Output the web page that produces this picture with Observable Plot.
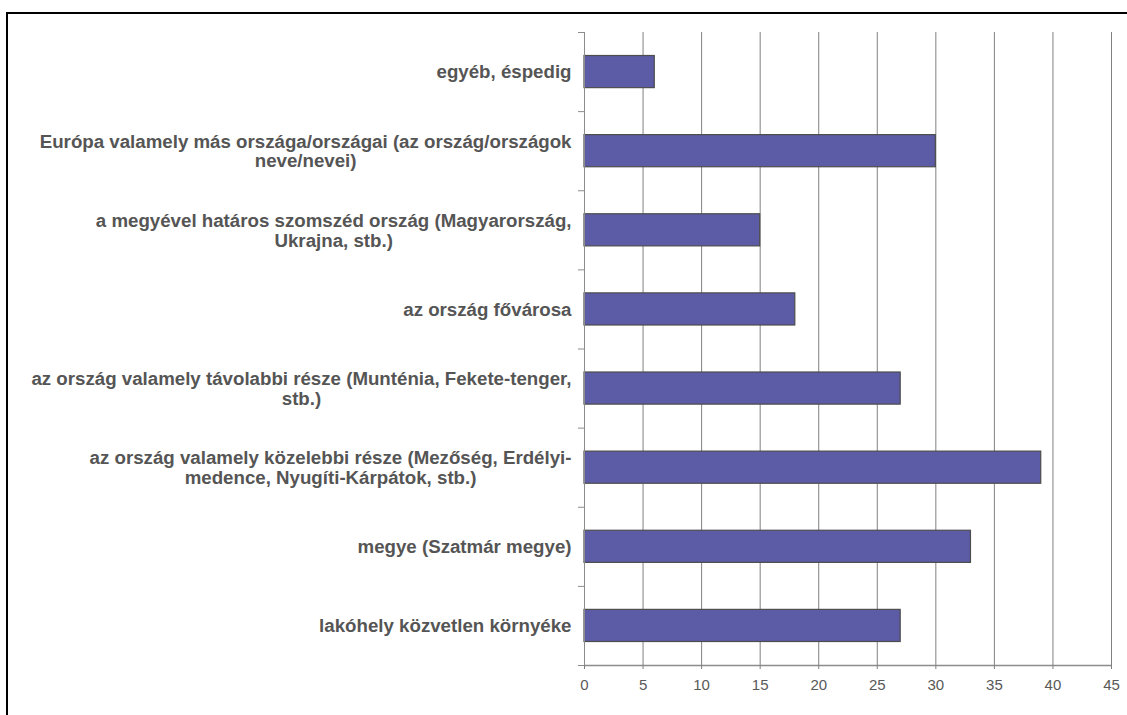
<!DOCTYPE html>
<html>
<head>
<meta charset="utf-8">
<script src="https://cdn.jsdelivr.net/npm/d3@7"></script>
<script src="https://cdn.jsdelivr.net/npm/@observablehq/plot@0.6"></script>
<style>
  html, body { margin: 0; padding: 0; background: #fff; overflow: hidden; }
  #frame { position: absolute; left: 6px; top: 12px; width: 1300px; height: 900px;
           border-top: 2px solid #000; border-left: 2px solid #000; }
  #chart { position: absolute; left: 0; top: 0; }
</style>
</head>
<body>
<div id="frame"></div>
<div id="chart"></div>
<script>
// Categories, top to bottom as in the reference
const categories = [
  "egyéb, éspedig",
  "Európa valamely más országa/országai (az ország/országok\nneve/nevei)",
  "a megyével határos szomszéd ország (Magyarország,\nUkrajna, stb.)",
  "az ország fővárosa",
  "az ország valamely távolabbi része (Munténia, Fekete-tenger,\nstb.)",
  "az ország valamely közelebbi része (Mezőség, Erdélyi-\nmedence, Nyugíti-Kárpátok, stb.)",
  "megye (Szatmár megye)",
  "lakóhely közvetlen környéke"
];
const values = [6, 30, 15, 18, 27, 39, 33, 27];
const xTicks = [0, 5, 10, 15, 20, 25, 30, 35, 40, 45];

const data = categories.map((c, i) => ({label: c, value: values[i], i}));

const labelSize = 18.7;
const labelFamily = "'Liberation Sans', Arial, sans-serif";
const ctx = document.createElement("canvas").getContext("2d");
ctx.font = `bold ${labelSize}px ${labelFamily}`;
const blockWidth = s => d3.max(s.split("\n"), l => ctx.measureText(l).width);

const labelMarks = data.map(d =>
  Plot.text([d], {
    y: e => e.i + 0.5,
    text: "label",
    frameAnchor: "left",
    textAnchor: "middle",
    lineAnchor: "middle",
    lineHeight: 1.06,
    dx: -(13 + blockWidth(d.label) / 2),
    fill: "#555555",
    fontWeight: "bold",
    fontSize: labelSize,
    fontFamily: labelFamily
  })
);

const plot = Plot.plot({
  width: 1127,
  height: 715,
  marginLeft: 584,
  marginRight: 16,
  marginTop: 32,
  marginBottom: 50,
  style: {fontFamily: labelFamily, background: "transparent"},
  x: {domain: [0, 45]},
  y: {domain: [0, 8], reverse: true},
  marks: [
    Plot.ruleX(xTicks.slice(1), {x: d => d, y1: 0, y2: 8, stroke: "#808080", strokeWidth: 1}),
    Plot.rectX(data, {
      x1: 0, x2: "value", y1: "i", y2: d => d.i + 1,
      insetTop: 23.5, insetBottom: 23.5,
      fill: "#5B5BA6", stroke: "#4d4d4d", strokeWidth: 1.2
    }),
    Plot.ruleX([0], {y1: 0, y2: 8, stroke: "#8c8c8c", strokeWidth: 1}),
    Plot.ruleY([8], {x1: 0, x2: 45, stroke: "#8c8c8c", strokeWidth: 1.5}),
    Plot.axisY({ticks: d3.range(0, 9), tickFormat: () => "", tickSize: 6, stroke: "#8c8c8c", label: null}),
    Plot.axisX({ticks: xTicks, tickFormat: () => "", tickSize: 4, stroke: "#808080", label: null}),
    Plot.text(xTicks, {
      x: d => d, text: d => String(d),
      frameAnchor: "bottom", lineAnchor: "top", textAnchor: "middle", dy: 14,
      fontSize: 15, fill: "#595959", fontFamily: labelFamily
    }),
    ...labelMarks
  ]
});
document.getElementById("chart").appendChild(plot);
</script>
</body>
</html>
